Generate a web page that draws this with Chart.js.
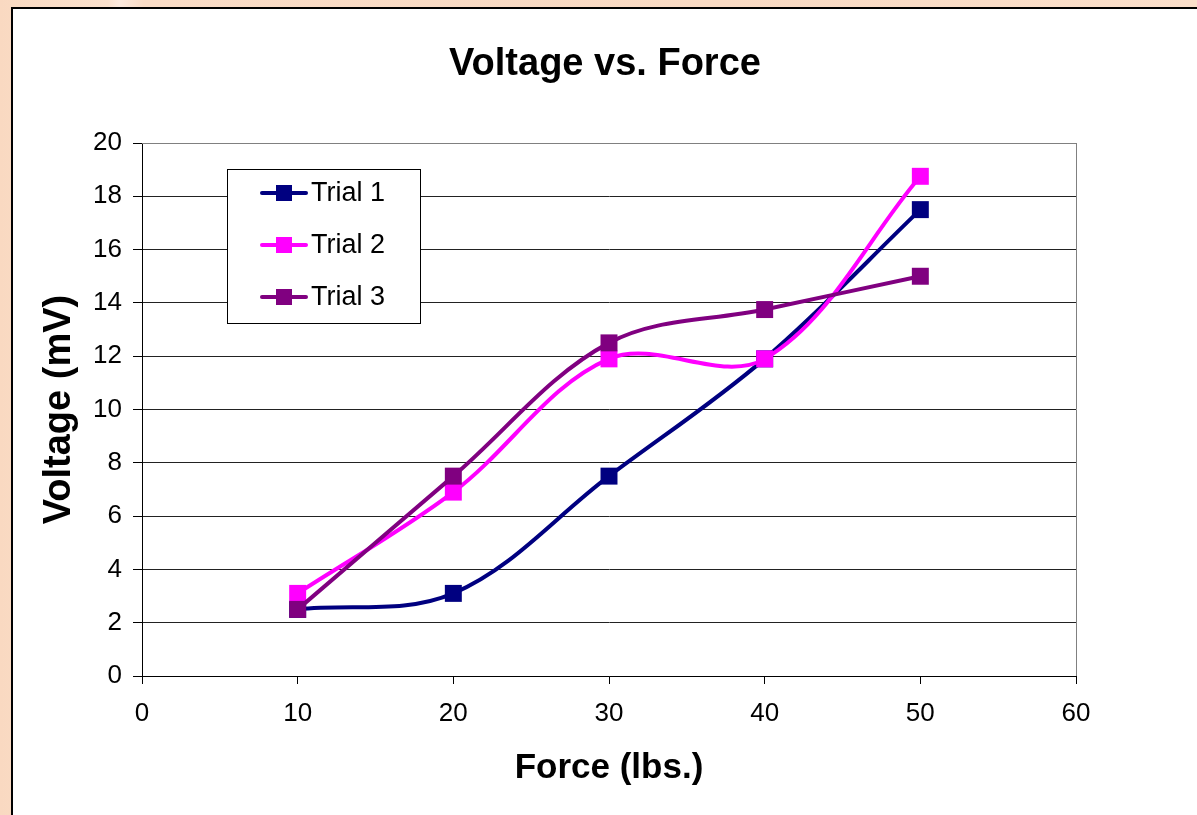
<!doctype html>
<html>
<head>
<meta charset="UTF-8">
<script src="https://cdn.jsdelivr.net/npm/chart.js"></script>
<style>
  html, body { margin: 0; padding: 0; overflow: hidden; }
  body {
    width: 1197px; height: 815px;
    background: linear-gradient(90deg, #f9d9c1 0%, #fbe1cd 9%, #fdeade 10%, #fadcc6 12%, #f9dac3 60%, #fbdfca 100%);
  }
  #frame {
    position: absolute; left: 11px; top: 7px; width: 1200px; height: 820px;
    background: #fff; border: 2px solid #000;
  }
  #chart { position: absolute; left: 0; top: 0; }
</style>
</head>
<body>
<div id="frame"><canvas id="chart" width="1184" height="806"></canvas></div>
<script>
  // values
  const forces = [10, 20, 30, 40, 50];
  const trial1 = [2.5, 3.1, 7.5, 11.9, 17.5];
  const trial2 = [3.1, 6.9, 11.9, 11.9, 18.75];
  const trial3 = [2.5, 7.5, 12.5, 13.75, 15];
  const seriesNames = ['Trial 1', 'Trial 2', 'Trial 3'];
  const seriesColors = ['#000080', '#FF00FF', '#800080'];
  const chartTitle = 'Voltage vs. Force';

  const FONT = "'Liberation Sans', Arial, sans-serif";

  function pts(vals) {
    return forces.map((f, i) => ({ x: f, y: vals[i] }));
  }

  const datasets = [trial1, trial2, trial3].map((vals, i) => ({
    label: seriesNames[i],
    data: pts(vals),
    borderColor: seriesColors[i],
    backgroundColor: seriesColors[i],
    borderWidth: 4,
    tension: 0.35,
    pointStyle: 'rect',
    pointRadius: 12,
    pointBorderWidth: 0,
    pointHoverRadius: 12,
    order: 3 - i
  }));

  // title centred on the whole frame (chart.js would centre it on the padded box)
  const frameTitle = {
    id: 'frameTitle',
    afterDraw(chart) {
      const ctx = chart.ctx;
      ctx.save();
      ctx.fillStyle = '#000';
      ctx.font = 'bold 38px ' + FONT;
      ctx.textAlign = 'center';
      ctx.textBaseline = 'middle';
      ctx.fillText(chartTitle, 592, 56);
      ctx.restore();
    }
  };

  // legend box inside the plot, like the original
  const boxLegend = {
    id: 'boxLegend',
    afterDraw(chart) {
      const ctx = chart.ctx;
      ctx.save();
      ctx.fillStyle = '#fff';
      ctx.fillRect(214, 160, 193, 154);
      ctx.strokeStyle = '#000';
      ctx.lineWidth = 1;
      ctx.strokeRect(214.5, 160.5, 193, 154);
      const rows = [184, 236, 288];
      seriesNames.forEach((name, i) => {
        const y = rows[i];
        ctx.strokeStyle = seriesColors[i];
        ctx.lineWidth = 4;
        ctx.lineCap = 'round';
        ctx.beginPath();
        ctx.moveTo(249, y);
        ctx.lineTo(293, y);
        ctx.stroke();
        ctx.fillStyle = seriesColors[i];
        ctx.fillRect(263, y - 8, 16, 16);
        ctx.fillStyle = '#000';
        ctx.font = '27px ' + FONT;
        ctx.textBaseline = 'middle';
        ctx.textAlign = 'left';
        ctx.fillText(name, 298, y + 1);
      });
      ctx.restore();
    }
  };

  // grey right and top edge of the plot area
  const plotEdge = {
    id: 'plotEdge',
    beforeDatasetsDraw(chart) {
      const { ctx, chartArea } = chart;
      ctx.save();
      ctx.strokeStyle = '#808080';
      ctx.lineWidth = 1;
      ctx.beginPath();
      ctx.moveTo(Math.round(chartArea.right) + 0.5, chartArea.top);
      ctx.lineTo(Math.round(chartArea.right) + 0.5, chartArea.bottom);
      ctx.moveTo(chartArea.left, Math.round(chartArea.top) + 0.5);
      ctx.lineTo(chartArea.right, Math.round(chartArea.top) + 0.5);
      ctx.stroke();
      ctx.restore();
    }
  };

  new Chart(document.getElementById('chart'), {
    type: 'line',
    data: { datasets: datasets },
    plugins: [plotEdge, boxLegend, frameTitle],
    options: {
      responsive: false,
      animation: false,
      layout: { padding: { top: 134, right: 121, bottom: 0, left: 0 } },
      plugins: {
        legend: { display: false },
        tooltip: { enabled: false },
        title: { display: false }
      },
      scales: {
        x: {
          type: 'linear',
          min: 0,
          max: 60,
          afterFit(scale) { scale.height = 139; },
          ticks: { stepSize: 10, color: '#000', padding: 14, font: { family: FONT, size: 26 } },
          grid: { drawOnChartArea: false, drawTicks: true, tickLength: 8, tickColor: '#000' },
          border: { color: '#000', width: 1 },
          title: {
            display: true,
            text: 'Force (lbs.)',
            color: '#000',
            font: { family: FONT, size: 35, weight: 'bold' },
            padding: { top: 0, bottom: 26 }
          }
        },
        y: {
          min: 0,
          max: 20,
          afterFit(scale) { scale.width = 129; },
          ticks: { stepSize: 2, color: '#000', padding: 11, font: { family: FONT, size: 26 } },
          grid: { color: '#222', lineWidth: 1, drawTicks: true, tickLength: 9, tickColor: '#000' },
          border: { color: '#000', width: 1 },
          title: {
            display: true,
            text: 'Voltage (mV)',
            color: '#000',
            font: { family: FONT, size: 38, weight: 'bold' },
            padding: { top: 24, bottom: 0 }
          }
        }
      }
    }
  });
</script>
</body>
</html>
